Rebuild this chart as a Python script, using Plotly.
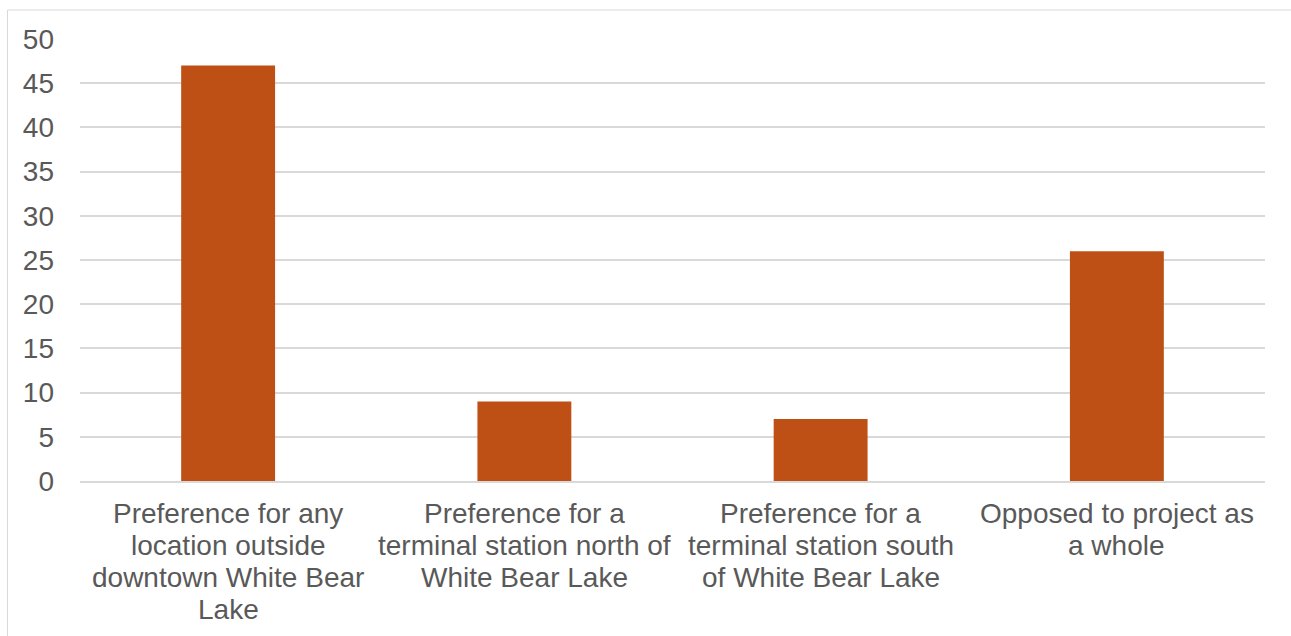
import plotly.graph_objects as go

categories = [
    "Preference for any<br>location outside<br>downtown White Bear<br>Lake",
    "Preference for a<br>terminal station north of<br>White Bear Lake",
    "Preference for a<br>terminal station south<br>of White Bear Lake",
    "Opposed to project as<br>a whole",
]
values = [47, 9, 7, 26]
y_ticks = [0, 5, 10, 15, 20, 25, 30, 35, 40, 45, 50]

W, H = 1291, 636
L, R, T, B = 80, 26, 38.5, 155
pw, ph = W - L - R, H - T - B
FONT = "Liberation Sans, Arial, sans-serif"
TXT = "#595959"
FS = 28

fig = go.Figure(go.Bar(
    x=list(range(len(categories))), y=values,
    marker=dict(color="#BE5016", line=dict(width=0)),
    width=0.317,
))

# category labels, one annotation per line for Excel-like line spacing
annotations = []
for i, label in enumerate(categories):
    for j, line in enumerate(label.split("<br>")):
        py = 514 + 32 * j
        annotations.append(dict(
            x=i, xref="x", y=(H - B - py) / ph, yref="paper",
            text=line, showarrow=False, xanchor="center", yanchor="middle",
            font=dict(family=FONT, size=FS, color=TXT),
        ))

fig.update_layout(
    width=W, height=H,
    margin=dict(l=L, r=R, t=T, b=B, pad=0),
    paper_bgcolor="white", plot_bgcolor="white",
    font=dict(family=FONT, size=FS, color=TXT),
    showlegend=False,
    xaxis=dict(
        tickmode="array", tickvals=list(range(len(categories))),
        ticktext=[""] * len(categories),
        range=[-0.5, 3.5], showgrid=False, zeroline=False,
        showline=True, linecolor="#D9D9D9", linewidth=1.5, ticks="",
    ),
    yaxis=dict(
        range=[0, 50], tickvals=y_ticks, showgrid=True, gridcolor="#D9D9D9", gridwidth=1.5,
        zeroline=False, showline=False, ticks="", ticklabelstandoff=25,
        tickfont=dict(size=FS, color=TXT),
    ),
    annotations=annotations,
    shapes=[dict(
        type="rect", xref="paper", yref="paper",
        x0=(7.5 - L) / pw, x1=1.1, y0=-0.6, y1=(H - B - 9.5) / ph,
        line=dict(color="#D9D9D9", width=1), layer="below",
    )],
)

fig.write_html("out.html")
